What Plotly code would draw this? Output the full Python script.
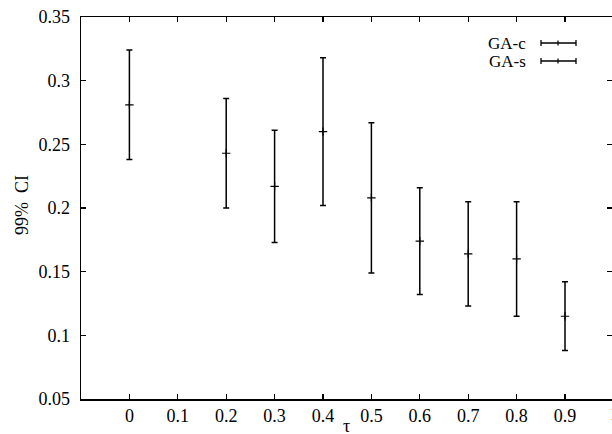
import plotly.graph_objects as go

tau = [0, 0.2, 0.3, 0.4, 0.5, 0.6, 0.7, 0.8, 0.9]
ci_mid = [0.281, 0.243, 0.217, 0.260, 0.208, 0.174, 0.164, 0.160, 0.115]
ci_low = [0.238, 0.200, 0.173, 0.202, 0.149, 0.132, 0.123, 0.115, 0.088]
ci_high = [0.324, 0.286, 0.261, 0.318, 0.267, 0.216, 0.205, 0.205, 0.142]
x_ticks = [0, 0.1, 0.2, 0.3, 0.4, 0.5, 0.6, 0.7, 0.8, 0.9]
y_ticks = [0.05, 0.1, 0.15, 0.2, 0.25, 0.3, 0.35]
legend_names = ["GA-c", "GA-s"]

FONT = "Liberation Serif"
err_plus = [h - m for h, m in zip(ci_high, ci_mid)]
err_minus = [m - l for m, l in zip(ci_mid, ci_low)]

fig = go.Figure()
fig.add_trace(go.Scatter(
    x=tau, y=ci_mid, mode="markers", name=legend_names[0],
    marker=dict(symbol="cross-thin", size=6, line=dict(color="black", width=1.2), color="black"),
    error_y=dict(type="data", symmetric=False, array=err_plus, arrayminus=err_minus,
                 color="black", thickness=1.5, width=3),
    showlegend=False,
    hoverinfo="skip",
))
# empty trace that only activates the mirrored right-hand tick axis
fig.add_trace(go.Scatter(x=[None], y=[None], yaxis="y2", mode="markers",
                         showlegend=False, hoverinfo="skip"))

W, H = 612, 434
L, T, B = 81, 17, 35
plot_w = W - L
plot_h = H - T - B
x0 = -0.1
x1 = x0 + plot_w / 484.0

tick_style = dict(ticks="inside", ticklen=5, tickwidth=1.2, tickcolor="black",
                  showgrid=False, zeroline=False, automargin=False)
tfont = dict(family=FONT, size=18, color="black")

fig.update_layout(
    width=W, height=H,
    margin=dict(l=L, r=0, t=T, b=B, pad=0, autoexpand=False),
    plot_bgcolor="white", paper_bgcolor="white",
    font=dict(family=FONT, size=18, color="black"),
    xaxis=dict(range=[x0, x1], tickvals=x_ticks, ticktext=[str(v) for v in x_ticks],
               ticklabelstandoff=0, showline=True, linecolor="black", linewidth=1.5,
               mirror="ticks", tickfont=tfont, **tick_style),
    yaxis=dict(range=[0.05, 0.35], tickvals=y_ticks,
               ticktext=["0.05", "0.1", "0.15", "0.2", "0.25", "0.3", "0.35"],
               ticklabelstandoff=6, showline=True, linecolor="black", linewidth=1.5,
               mirror=False, tickfont=tfont, **tick_style),
    yaxis2=dict(overlaying="y", side="right", range=[0.05, 0.35],
                showline=False, tickvals=y_ticks, showticklabels=False, **tick_style),
    showlegend=False,
)

# axis titles
fig.add_annotation(xref="paper", yref="paper", x=(346 - L) / plot_w, y=0, yshift=-15,
                   text="τ", showarrow=False, xanchor="center", yanchor="top",
                   font=dict(family=FONT, size=18, color="black"))
fig.add_annotation(xref="paper", yref="paper", x=(22 - L) / plot_w, y=1 - (205 - T) / plot_h,
                   text="99%  CI", showarrow=False, textangle=-90, xanchor="center",
                   yanchor="middle", font=dict(family=FONT, size=18, color="black"))
# partially visible tick label "1" beyond the right edge
fig.add_annotation(xref="paper", yref="paper", x=(614 - L) / plot_w, y=0, yshift=-3,
                   text="1", showarrow=False, xanchor="center", yanchor="top",
                   font=dict(family=FONT, size=18, color="black"))

# manual gnuplot-style key
for i, name in enumerate(legend_names):
    ypix = 43 + 18 * i
    yp = 1 - (ypix - T) / plot_h
    fig.add_annotation(xref="paper", yref="paper", x=(528 - L) / plot_w, y=yp,
                       text=name, showarrow=False, xanchor="right",
                       yanchor="middle", font=dict(family=FONT, size=17, color="black"))
    xa = (541 - L) / plot_w
    xb = (576 - L) / plot_w
    xm = (558 - L) / plot_w
    fig.add_shape(type="line", xref="paper", yref="paper", x0=xa, x1=xb, y0=yp, y1=yp,
                  line=dict(color="black", width=1.3))
    dy = 3 / plot_h
    for xx in (xa, xb):
        fig.add_shape(type="line", xref="paper", yref="paper", x0=xx, x1=xx,
                      y0=yp - dy, y1=yp + dy, line=dict(color="black", width=1.3))
    fig.add_shape(type="line", xref="paper", yref="paper", x0=xm, x1=xm,
                  y0=yp - dy * 0.8, y1=yp + dy * 0.8, line=dict(color="black", width=1.2))

fig.write_html(
    "out.html",
    config={"displayModeBar": False, "staticPlot": True},
    post_script="document.body.style.margin='0';document.body.style.overflow='hidden';"
                "document.documentElement.style.overflow='hidden';",
)
